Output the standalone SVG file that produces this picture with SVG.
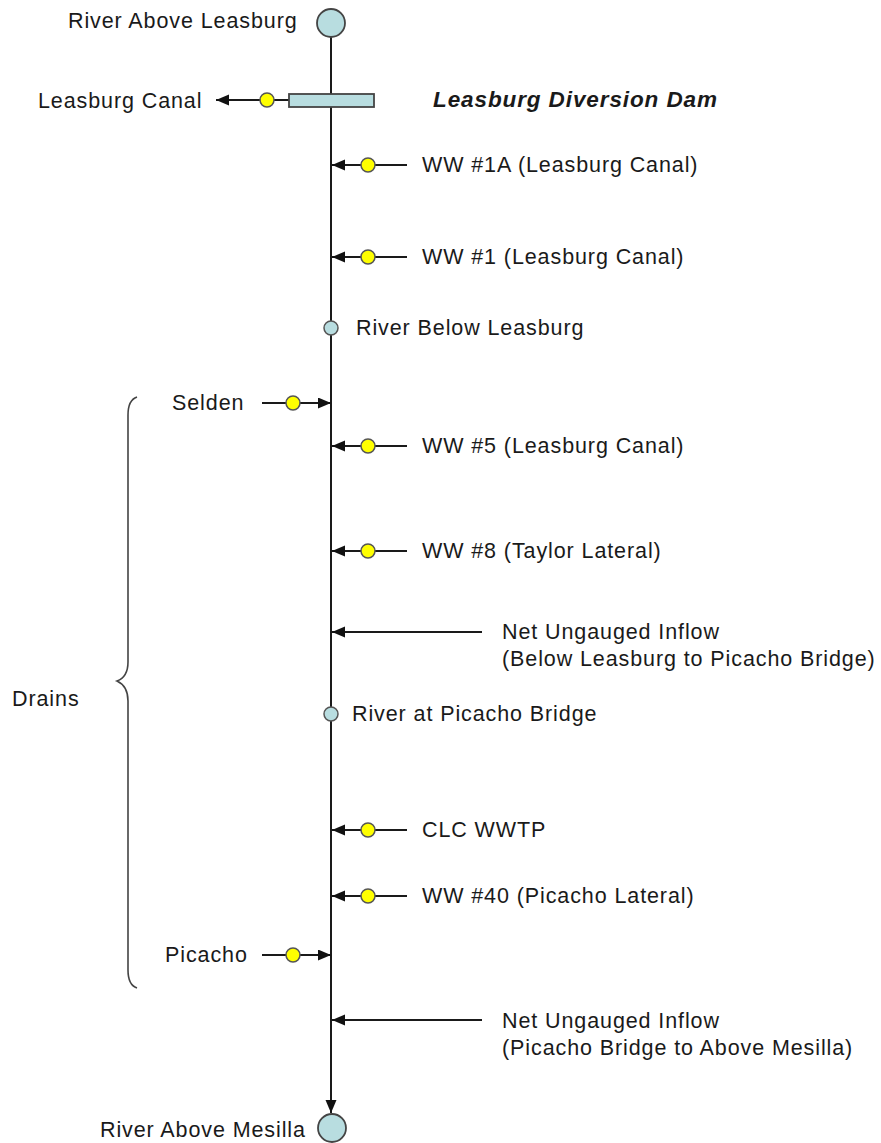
<svg xmlns="http://www.w3.org/2000/svg" width="881" height="1143" viewBox="0 0 881 1143">
<defs>
<style>
text{font-family:"Liberation Sans",Arial,sans-serif;font-size:21.5px;letter-spacing:0.9px;fill:#1a1a1a}
.title{font-weight:bold;font-style:italic;font-size:22.5px}
.big{fill:#b8dde0;stroke:#444;stroke-width:1.8}
.small{fill:#b8dde0;stroke:#555;stroke-width:1.5}
.gauge{fill:#ffff00;stroke:#555;stroke-width:1.5}
.ln{stroke:#1a1a1a;stroke-width:2;fill:none}
.arr{marker-end:url(#ah)}
.brace{stroke:#444;stroke-width:1.6;fill:none}
</style>
<marker id="ah" markerUnits="userSpaceOnUse" markerWidth="14" markerHeight="12" refX="13" refY="5.5" orient="auto">
<path d="M0,0 L13,5.5 L0,11 z" fill="#111"/>
</marker>
</defs>
<rect width="881" height="1143" fill="#fff"/>
<g id="connectors">
<line class="ln arr" x1="331" y1="37" x2="331" y2="1113"/>
<line class="ln arr" x1="289" y1="100" x2="216" y2="100"/>
<line class="ln arr" x1="407" y1="165" x2="332" y2="165"/>
<line class="ln arr" x1="407" y1="257" x2="332" y2="257"/>
<line class="ln arr" x1="262" y1="403" x2="331" y2="403"/>
<line class="ln arr" x1="407" y1="446" x2="332" y2="446"/>
<line class="ln arr" x1="407" y1="551" x2="332" y2="551"/>
<line class="ln arr" x1="482" y1="632" x2="332" y2="632"/>
<line class="ln arr" x1="407" y1="830" x2="332" y2="830"/>
<line class="ln arr" x1="407" y1="896" x2="332" y2="896"/>
<line class="ln arr" x1="262" y1="955" x2="331" y2="955"/>
<line class="ln arr" x1="482" y1="1020" x2="332" y2="1020"/>
</g>
<g id="river-above-leasburg">
<circle class="big" cx="331" cy="23" r="14"/>
<text x="68" y="28">River Above Leasburg</text>
</g>
<g id="leasburg-diversion-dam">
<rect class="big" x="289" y="94" width="85" height="13"/>
<text class="title" x="433" y="107">Leasburg Diversion Dam</text>
</g>
<g id="leasburg-canal">
<circle class="gauge" cx="267" cy="100" r="7"/>
<text x="38" y="108">Leasburg Canal</text>
</g>
<g id="ww1a">
<circle class="gauge" cx="368" cy="165" r="7"/>
<text x="422" y="172">WW #1A (Leasburg Canal)</text>
</g>
<g id="ww1">
<circle class="gauge" cx="368" cy="257" r="7"/>
<text x="422" y="264">WW #1 (Leasburg Canal)</text>
</g>
<g id="river-below-leasburg">
<circle class="small" cx="331" cy="328" r="7"/>
<text x="356" y="335">River Below Leasburg</text>
</g>
<g id="selden">
<circle class="gauge" cx="293" cy="403" r="7"/>
<text x="172" y="410">Selden</text>
</g>
<g id="ww5">
<circle class="gauge" cx="368" cy="446" r="7"/>
<text x="422" y="453">WW #5 (Leasburg Canal)</text>
</g>
<g id="ww8">
<circle class="gauge" cx="368" cy="551" r="7"/>
<text x="422" y="558">WW #8 (Taylor Lateral)</text>
</g>
<g id="net-ungauged-1">
<text x="502" y="639">Net Ungauged Inflow</text>
<text x="502" y="666">(Below Leasburg to Picacho Bridge)</text>
</g>
<g id="drains">
<path class="brace" d="M137,397 Q128,400 128,415 L128,662 Q128,677 117,681 Q128,686 128,701 L128,970 Q128,985 137,988"/>
<text x="12" y="706">Drains</text>
</g>
<g id="river-at-picacho-bridge">
<circle class="small" cx="331" cy="714" r="7"/>
<text x="352" y="721">River at Picacho Bridge</text>
</g>
<g id="clc-wwtp">
<circle class="gauge" cx="368" cy="830" r="7"/>
<text x="422" y="837">CLC WWTP</text>
</g>
<g id="ww40">
<circle class="gauge" cx="368" cy="896" r="7"/>
<text x="422" y="903">WW #40 (Picacho Lateral)</text>
</g>
<g id="picacho">
<circle class="gauge" cx="293" cy="955" r="7"/>
<text x="165" y="962">Picacho</text>
</g>
<g id="net-ungauged-2">
<text x="502" y="1028">Net Ungauged Inflow</text>
<text x="502" y="1055">(Picacho Bridge to Above Mesilla)</text>
</g>
<g id="river-above-mesilla">
<circle class="big" cx="332" cy="1128" r="14"/>
<text x="100" y="1137">River Above Mesilla</text>
</g>
</svg>
